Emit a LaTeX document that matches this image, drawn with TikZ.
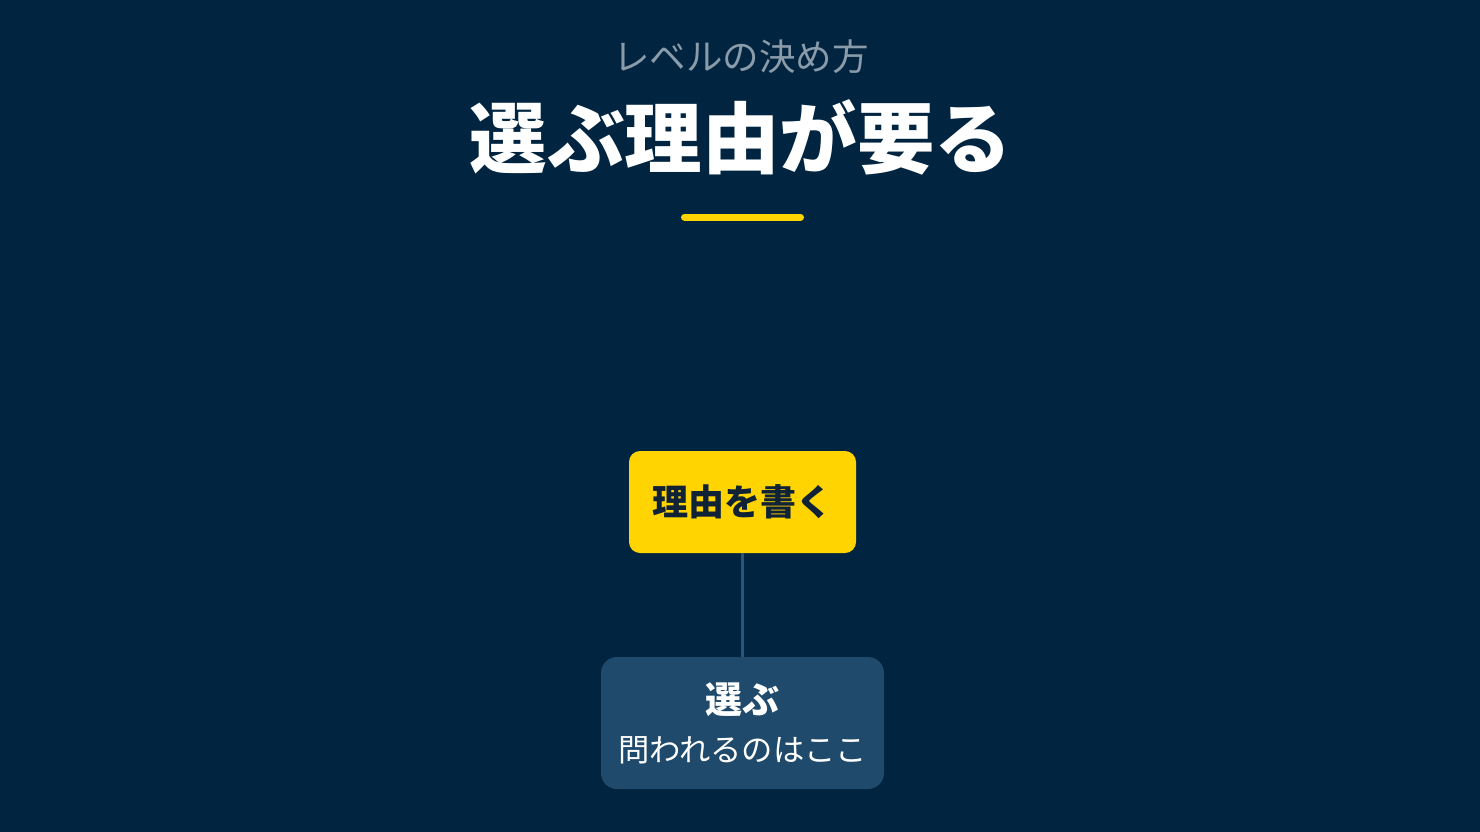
\documentclass[tikz,border=0pt]{standalone}
\usepackage{fontspec}
\setmainfont{Noto Sans CJK JP}
\definecolor{bg}{HTML}{012540}
\definecolor{subgray}{HTML}{8A9BAA}
\definecolor{accent}{HTML}{FFD400}
\definecolor{navybox}{HTML}{1F4A6B}
\definecolor{darktext}{HTML}{0F2236}
\definecolor{linkcol}{HTML}{28577A}
\tikzset{
  subtitle/.style={text=subgray, font=\fontsize{36.5}{44}\selectfont, inner sep=0pt},
  maintitle/.style={text=white, font=\bfseries\fontsize{77.5}{92}\selectfont, inner sep=0pt},
  yellowbox/.style={fill=accent, rounded corners=11pt, minimum width=227pt, minimum height=102pt, inner sep=0pt, text=darktext, font=\bfseries\fontsize{36}{43}\selectfont},
  bluebox/.style={fill=navybox, rounded corners=16pt, minimum width=283pt, minimum height=132pt, inner sep=0pt},
  link/.style={draw=linkcol, line width=3pt},
}
\begin{document}
\begin{tikzpicture}[x=1pt,y=-1pt]
\fill[bg] (0,0) rectangle (1480,832);
\useasboundingbox (0,0) rectangle (1480,832);
\node[subtitle] (sub) at (741,57) {レベルの決め方};
\node[maintitle] (title) at (741,137) {選ぶ理由が要る};
\coordinate (ulA) at (684.5,217);
\coordinate (ulB) at (800.5,217);
\draw[accent, line width=7pt, line cap=round] (ulA) -- (ulB);
\node[yellowbox] (reason) at (742.5,502) {理由を書く};
\node[bluebox] (choose) at (742.5,723) {};
\node[text=white, font=\bfseries\fontsize{37}{44}\selectfont, inner sep=0pt] (chooseT) at (742.5,700) {選ぶ};
\node[text=white, font=\fontsize{31.3}{38}\selectfont, inner sep=0pt] (chooseS) at (742.5,750) {問われるのはここ};
\draw[link] (reason.south) -- (choose.north);
\end{tikzpicture}
\end{document}
